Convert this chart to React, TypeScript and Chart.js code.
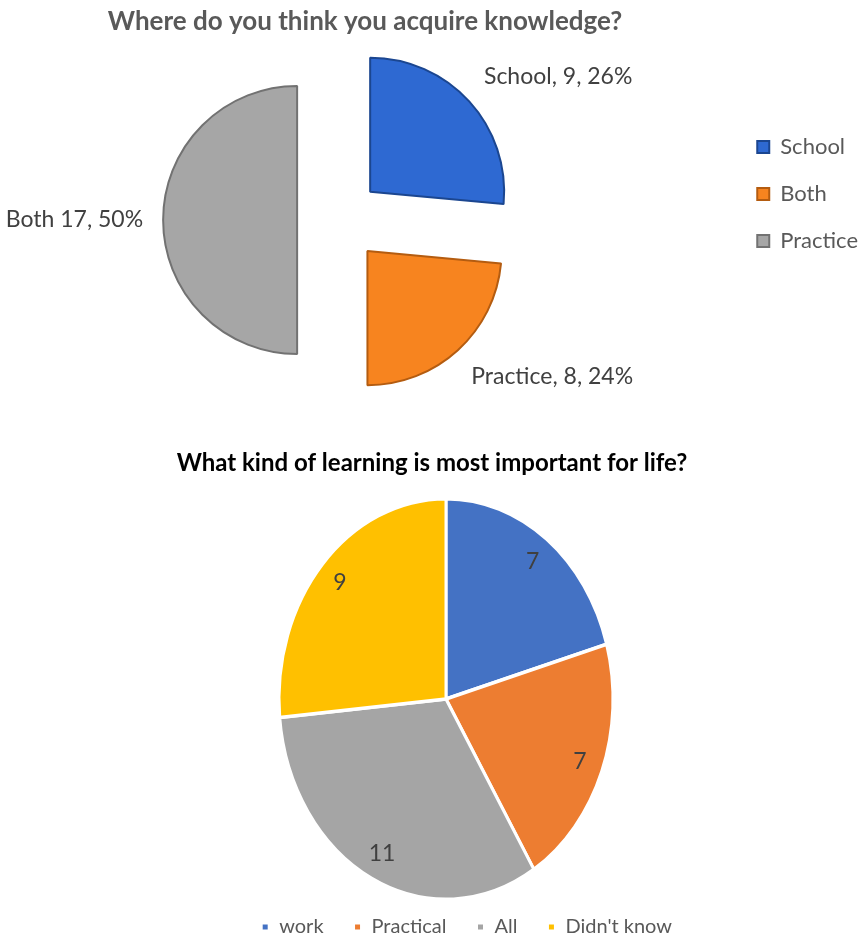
import React, { useEffect, useRef } from 'react';
import { Chart, registerables } from 'chart.js';

Chart.register(...registerables);

const FONT = "Lato, 'Open Sans', sans-serif";

// ---------- Chart 1: exploded pie ----------
const title1 = 'Where do you think you acquire knowledge?';
const legendLabels1 = ['School', 'Both', 'Practice'];
const values1 = [9, 8, 17];
const sliceLabels1 = ['School, 9, 26%', 'Practice, 8, 24%', 'Both 17, 50%'];
const fill1 = ['#2E69D2', '#F7841F', '#A6A6A6'];
const edge1 = ['#1B4690', '#B45C10', '#727272'];

// ---------- Chart 2: plain pie (drawn as ellipse) ----------
const title2 = 'What kind of learning is most important for life?';
const categories2 = ['work', 'Practical', 'All', "Didn't know"];
const values2 = [7, 7, 11, 9];
const fill2 = ['#4472C4', '#ED7D31', '#A5A5A5', '#FFC000'];

const EXPLODE = 42;
const ELLIPSE_Y = 1.2;

const freeTitle = {
  id: 'freeTitle',
  afterDraw(chart: any, _a: any, opts: any) {
    const { ctx } = chart;
    ctx.save();
    ctx.font = opts.font;
    ctx.fillStyle = opts.color;
    ctx.textAlign = 'center';
    ctx.textBaseline = 'middle';
    ctx.fillText(opts.text, opts.x, opts.y);
    ctx.restore();
  },
};

// keep exploded slices at the common radius
const explodeFix = {
  id: 'explodeFix',
  beforeDatasetDraw(_chart: any, args: any) {
    args.meta.data.forEach((arc: any) => {
      arc._realCirc = arc.circumference;
      arc.circumference = Math.min(arc.circumference, Math.PI / 2);
    });
  },
  afterDatasetDraw(_chart: any, args: any) {
    args.meta.data.forEach((arc: any) => {
      arc.circumference = arc._realCirc;
    });
  },
};

const outerLabels = {
  id: 'outerLabels',
  afterDraw(chart: any, _a: any, opts: any) {
    const { ctx } = chart;
    const meta = chart.getDatasetMeta(0);
    ctx.save();
    ctx.font = opts.font;
    ctx.fillStyle = opts.color;
    meta.data.forEach((arc: any, i: number) => {
      const p = arc.getProps(['x', 'y', 'startAngle', 'endAngle', 'outerRadius'], true);
      const mid = (p.startAngle + p.endAngle) / 2;
      const dx = Math.cos(mid);
      const dy = Math.sin(mid);
      const r = p.outerRadius + EXPLODE + opts.gap;
      ctx.textAlign = dx > 0.1 ? 'left' : dx < -0.1 ? 'right' : 'center';
      ctx.textBaseline = dy < -0.3 ? 'bottom' : dy > 0.3 ? 'top' : 'middle';
      ctx.fillText(opts.texts[i], p.x + dx * r, p.y + dy * r);
    });
    ctx.restore();
  },
};

const ellipse = {
  id: 'ellipse',
  beforeDatasetsDraw(chart: any, _a: any, opts: any) {
    const arc = chart.getDatasetMeta(0).data[0];
    const { ctx } = chart;
    ctx.save();
    ctx.translate(arc.x, arc.y);
    ctx.scale(1, opts.sy);
    ctx.translate(-arc.x, -arc.y);
  },
  afterDatasetsDraw(chart: any) {
    chart.ctx.restore();
  },
};

const innerLabels = {
  id: 'innerLabels',
  afterDraw(chart: any, _a: any, opts: any) {
    const { ctx } = chart;
    const meta = chart.getDatasetMeta(0);
    const ds = chart.data.datasets[0].data;
    ctx.save();
    ctx.font = opts.font;
    ctx.fillStyle = opts.color;
    ctx.textAlign = 'center';
    ctx.textBaseline = 'middle';
    meta.data.forEach((arc: any, i: number) => {
      const p = arc.getProps(['x', 'y', 'startAngle', 'endAngle', 'outerRadius'], true);
      const mid = (p.startAngle + p.endAngle) / 2;
      const r = p.outerRadius * opts.pos;
      ctx.fillText(String(ds[i]), p.x + Math.cos(mid) * r, p.y + Math.sin(mid) * r * opts.sy);
    });
    ctx.restore();
  },
};

const TOP = { left: -80, top: 0, width: 963, height: 430 };
const BOT = { left: 0, top: 430, width: 863, height: 520 };

function makeTop(): any {
  return {
    type: 'pie',
    data: {
      labels: legendLabels1,
      datasets: [
        {
          data: values1,
          backgroundColor: fill1,
          borderColor: edge1,
          borderWidth: 2,
          offset: EXPLODE * 4,
          clip: false,
        },
      ],
    },
    options: {
      responsive: false,
      animation: false,
      events: [],
      radius: 134,
      layout: { padding: { left: 26, right: 15, top: 111, bottom: 101 } },
      plugins: {
        tooltip: { enabled: false },
        title: { display: false },
        legend: {
          position: 'right',
          align: 'start',
          labels: {
            font: { family: FONT, size: 22 },
            color: '#595959',
            boxWidth: 12,
            boxHeight: 12,
            padding: 25,
          },
        },
        freeTitle: {
          text: title1,
          x: 365 - TOP.left,
          y: 22,
          font: `bold 26px ${FONT}`,
          color: '#595959',
        },
        outerLabels: {
          texts: sliceLabels1,
          gap: 20,
          font: `23px ${FONT}`,
          color: '#404040',
        },
      },
    },
    plugins: [explodeFix, outerLabels, freeTitle],
  };
}

function makeBottom(): any {
  return {
    type: 'pie',
    data: {
      labels: categories2,
      datasets: [
        {
          data: values2,
          backgroundColor: fill2,
          borderColor: '#FFFFFF',
          borderWidth: 3,
          clip: false,
        },
      ],
    },
    options: {
      responsive: false,
      animation: false,
      events: [],
      radius: 167,
      layout: { padding: { left: 190, right: 161, top: 81, bottom: 3 } },
      plugins: {
        tooltip: { enabled: false },
        title: { display: false },
        legend: {
          position: 'bottom',
          align: 'end',
          labels: {
            font: { family: FONT, size: 20 },
            color: '#595959',
            boxWidth: 8,
            boxHeight: 8,
            padding: 30,
          },
        },
        ellipse: { sy: ELLIPSE_Y },
        freeTitle: {
          text: title2,
          x: 432,
          y: 33,
          font: `bold 24px ${FONT}`,
          color: '#000000',
        },
        innerLabels: {
          pos: 0.86,
          sy: ELLIPSE_Y,
          font: `23px ${FONT}`,
          color: '#404040',
        },
      },
    },
    plugins: [ellipse, innerLabels, freeTitle],
  };
}

function ChartCanvas({ box, make }: { box: any; make: () => any }) {
  const ref = useRef<HTMLCanvasElement | null>(null);
  useEffect(() => {
    const chart = new Chart(ref.current as HTMLCanvasElement, make());
    return () => chart.destroy();
  }, []);
  return (
    <canvas
      ref={ref}
      width={box.width}
      height={box.height}
      style={{
        position: 'absolute',
        left: box.left,
        top: box.top,
        width: box.width,
        height: box.height,
        display: 'block',
      }}
    />
  );
}

export default function App() {
  return (
    <div
      style={{
        position: 'absolute',
        left: 0,
        top: 0,
        width: 863,
        height: 940,
        overflow: 'hidden',
        background: '#ffffff',
      }}
    >
      <ChartCanvas box={TOP} make={makeTop} />
      <ChartCanvas box={BOT} make={makeBottom} />
    </div>
  );
}
